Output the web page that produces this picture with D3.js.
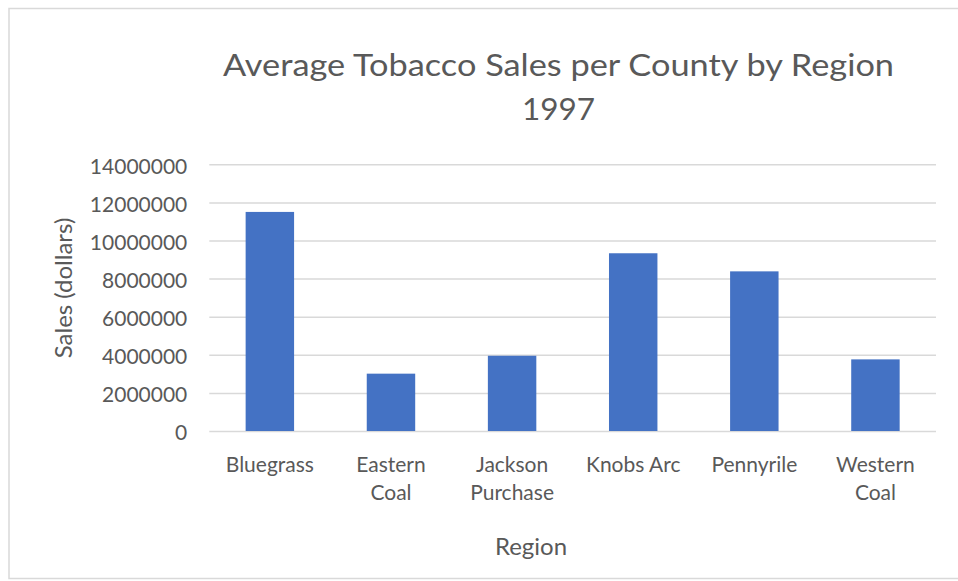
<!DOCTYPE html>
<html>
<head>
<meta charset="utf-8">
<script src="https://cdn.jsdelivr.net/npm/d3@7"></script>
<style>
  html, body { margin: 0; padding: 0; background: #fff; }
  svg { display: block; }
  text { font-family: Lato, "Open Sans", sans-serif; fill: #595959; }
</style>
</head>
<body>
<svg id="chart" width="958" height="581"></svg>
<script>
// ---- data ----
const categories = ["Bluegrass", "Eastern Coal", "Jackson Purchase", "Knobs Arc", "Pennyrile", "Western Coal"];
const categoryLines = [["Bluegrass"], ["Eastern", "Coal"], ["Jackson", "Purchase"], ["Knobs Arc"], ["Pennyrile"], ["Western", "Coal"]];
const salesValues = [11500000, 3010000, 3950000, 9330000, 8380000, 3760000];
const yTickValues = [0, 2000000, 4000000, 6000000, 8000000, 10000000, 12000000, 14000000];
const titleLines = ["Average Tobacco Sales per County by Region", "1997"];
const xAxisTitle = "Region";
const yAxisTitle = "Sales (dollars)";

// ---- layout ----
const svg = d3.select("#chart");
const plot = { left: 209.3, right: 936, top: 164.3, bottom: 431 };

// border
svg.append("rect")
  .attr("x", 9).attr("y", 8.5)
  .attr("width", 1000).attr("height", 570)
  .attr("fill", "none").attr("stroke", "#d9d9d9").attr("stroke-width", 1.5);

const x = d3.scaleBand()
  .domain(categories)
  .range([plot.left, plot.right])
  .paddingInner(0.6)
  .paddingOuter(0.3);

const y = d3.scaleLinear()
  .domain([0, 14000000])
  .range([plot.bottom, plot.top]);

// y axis with gridlines
const yAxis = d3.axisLeft(y)
  .tickValues(yTickValues)
  .tickFormat(d3.format("d"))
  .tickSizeInner(-(plot.right - plot.left))
  .tickSizeOuter(0)
  .tickPadding(22);

const gy = svg.append("g")
  .attr("transform", `translate(${plot.left},0)`)
  .call(yAxis);
gy.select(".domain").remove();
gy.selectAll(".tick line").attr("stroke", "#d9d9d9").attr("stroke-width", 1.5);
gy.selectAll(".tick text")
  .attr("font-size", 21)
  .attr("dy", "0.42em")
  .style("font-family", "Lato, 'Open Sans', sans-serif")
  .attr("fill", "#595959");

// bars
svg.append("g").selectAll("rect")
  .data(salesValues)
  .join("rect")
  .attr("x", (d, i) => x(categories[i]))
  .attr("width", x.bandwidth())
  .attr("y", d => y(d))
  .attr("height", d => y(0) - y(d))
  .attr("fill", "#4472C4");

// x axis labels
const xAxis = d3.axisBottom(x).tickSize(0).tickPadding(0);
const gx = svg.append("g")
  .attr("transform", `translate(0,${plot.bottom})`)
  .call(xAxis);
gx.select(".domain").remove();
gx.selectAll(".tick text").each(function(d, i) {
  const t = d3.select(this);
  t.text(null).attr("y", 0).attr("dy", null)
   .attr("font-size", 21)
   .style("font-family", "Lato, 'Open Sans', sans-serif")
   .attr("fill", "#595959");
  categoryLines[i].forEach((line, j) => {
    t.append("tspan").attr("x", 0).attr("y", 40.7 + j * 28.5).text(line);
  });
});

// title
svg.append("text")
  .attr("x", 558.5).attr("y", 76)
  .attr("text-anchor", "middle")
  .attr("font-size", 31.5)
  .attr("font-weight", 400)
  .attr("textLength", 671)
  .attr("lengthAdjust", "spacingAndGlyphs")
  .text(titleLines[0]);
svg.append("text")
  .attr("x", 558.5).attr("y", 119.5)
  .attr("text-anchor", "middle")
  .attr("font-size", 31.5)
  .attr("font-weight", 400)
  .text(titleLines[1]);

// axis titles
svg.append("text")
  .attr("x", 531).attr("y", 555)
  .attr("text-anchor", "middle")
  .attr("font-size", 24)
  .text(xAxisTitle);

svg.append("text")
  .attr("transform", "translate(72,288) rotate(-90)")
  .attr("text-anchor", "middle")
  .attr("font-size", 24)
  .text(yAxisTitle);
</script>
</body>
</html>
